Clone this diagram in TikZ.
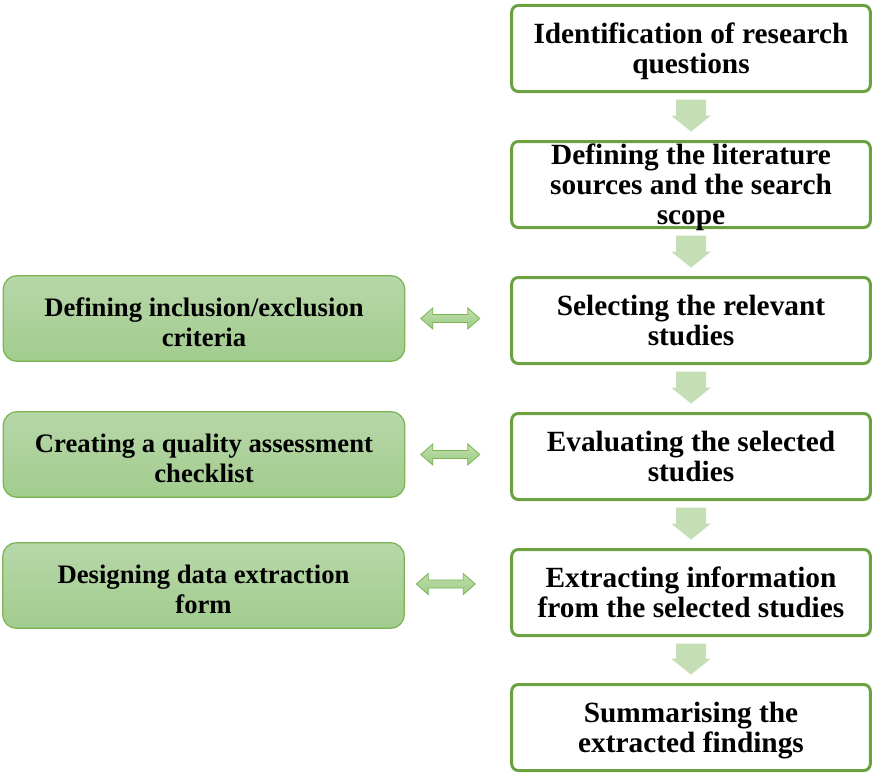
\documentclass[tikz,border=0pt]{standalone}
\usepackage{fontspec}
\setmainfont{Liberation Serif}[BoldFont={Liberation Serif Bold}]
\usetikzlibrary{calc}
\definecolor{gborder}{RGB}{106,162,66}
\definecolor{lborder}{RGB}{122,180,82}
\definecolor{gtop}{RGB}{183,215,169}
\definecolor{gbot}{RGB}{162,204,142}
\definecolor{arrowfill}{RGB}{197,222,181}
\definecolor{dtop}{RGB}{190,222,172}
\definecolor{dbot}{RGB}{160,204,136}
\tikzset{
  stepbox/.style={draw=gborder, line width=2.25pt, rounded corners=5pt, fill=white,
    minimum width=269pt, minimum height=64.5pt, align=center, inner sep=0pt,
    text depth=0pt,
    font=\fontsize{22}{22.5}\selectfont\bfseries},
  sidebox/.style={draw=lborder, line width=0.9pt, rounded corners=10pt,
    top color=gtop, bottom color=gbot,
    minimum width=301pt, minimum height=64pt, align=center, inner sep=0pt,
    text depth=0pt, text height=42pt,
    font=\fontsize{20}{22.5}\selectfont\bfseries},
  flowfill/.style={fill=arrowfill},
  dblarrow/.style={draw=lborder, line width=0.6pt, top color=dtop, bottom color=dbot},
}
\newcommand\flowarrow[2]{%
  \fill[flowfill] ($(#1.south)+(-15,6.5)$) -- ($(#1.south)+(15,6.5)$)
    -- ($(#2.north)+(15,-24.5)$) -- ($(#2.north)+(20,-24.5)$)
    -- ($(#2.north)+(0,-8.5)$) -- ($(#2.north)+(-20,-24.5)$)
    -- ($(#2.north)+(-15,-24.5)$) -- cycle;}
\newcommand\linkarrow[3]{% node, x offset from east, y shift
  \draw[dblarrow] ($(#1.east)+(#2,#3)$) -- ++(12,-10.5) -- ++(0,6.5) -- ++(35,0)
    -- ++(0,-6.5) -- ++(12,10.5) -- ++(-12,10.5) -- ++(0,-6.5) -- ++(-35,0)
    -- ++(0,6.5) -- cycle;}
\begin{document}
\begin{tikzpicture}[x=0.75pt,y=-0.75pt]
\useasboundingbox (0,0) rectangle (873,774);
\node[stepbox] (b1) at (691,48.5) {Identification of research\\questions};
\node[stepbox] (b2) at (691,184.5) {Defining the literature\\sources and the search\\scope};
\node[stepbox] (b3) at (691,320.5) {Selecting the relevant\\studies};
\node[stepbox] (b4) at (691,456.5) {Evaluating the selected\\studies};
\node[stepbox] (b5) at (691,592.5) {Extracting information\\from the selected studies};
\node[stepbox] (b6) at (691,727.5) {Summarising the\\extracted findings};
\node[sidebox] (s1) at (204,318.5) {Defining inclusion/exclusion\\criteria};
\node[sidebox] (s2) at (204,454.5) {Creating a quality assessment\\checklist};
\node[sidebox] (s3) at (203.5,585.5) {Designing data extraction\\form};
\flowarrow{b1}{b2}
\flowarrow{b2}{b3}
\flowarrow{b3}{b4}
\flowarrow{b4}{b5}
\flowarrow{b5}{b6}
\linkarrow{s1}{15.5}{0}
\linkarrow{s2}{15.5}{0}
\linkarrow{s3}{11.5}{-1.5}
\end{tikzpicture}
\end{document}
